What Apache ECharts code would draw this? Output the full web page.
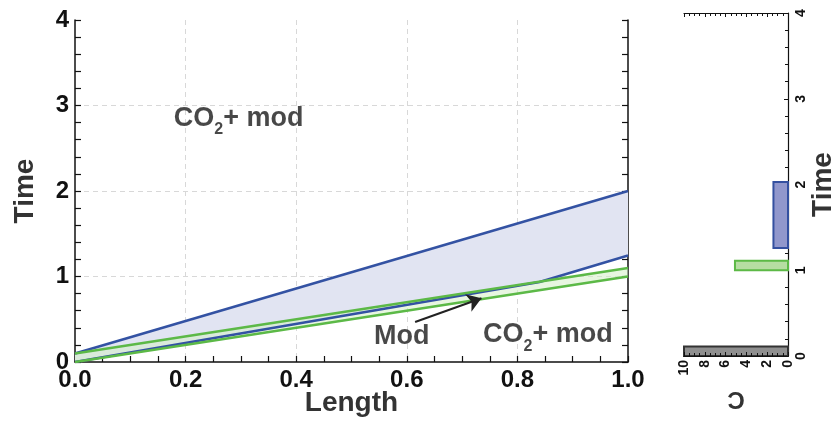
<!DOCTYPE html>
<html>
<head>
<meta charset="utf-8">
<script src="https://cdn.jsdelivr.net/npm/echarts@6/dist/echarts.min.js"></script>
<style>
  html, body { margin: 0; padding: 0; background: #fff; }
  #chart { width: 835px; height: 424px; }
</style>
</head>
<body>
<div id="chart"></div>
<script>
// main panel: lines as [length, time]
const blueTop = [[0, 0.1], [1.0, 2.0]];
const blueBottom = [[0, 0], [0.84, 0.935], [1.0, 1.245]];
const greenTop = [[0, 0.1], [1.0, 1.1]];
const greenBottom = [[0, 0], [1.0, 1.0]];

// right panel: C value and time range of each bar
const barC = [10, 5.1, 1.4];
const barStart = [0, 1.0, 1.26];
const barEnd = [0.11, 1.11, 2.03];
const barFill = ['#8f8f8f', '#b6dda2', '#9197cc'];
const barEdge = ['#333333', '#5cb946', '#3450a0'];

// text notes [length, time, label]
const notes = [
  [0.296, 2.83, 'co2'],
  [0.591, 0.275, 'mod'],
  [0.855, 0.30, 'co2']
];
const arrowFrom = [0.615, 0.468];
const arrowTo = [0.735, 0.745];

const blue = '#3352a3';
const green = '#5cb947';
const font = 'Liberation Sans, Arial, sans-serif';

const chart = echarts.init(document.getElementById('chart'));

function band(upper, lower, fill) {
  return {
    type: 'custom',
    xAxisIndex: 0,
    yAxisIndex: 0,
    data: [0],
    silent: true,
    renderItem: function (params, api) {
      const pts = upper.map(p => api.coord(p))
        .concat(lower.slice().reverse().map(p => api.coord(p)));
      return { type: 'polygon', shape: { points: pts }, style: { fill: fill } };
    }
  };
}

function line(data, color) {
  return {
    type: 'line',
    xAxisIndex: 0,
    yAxisIndex: 0,
    data: data,
    showSymbol: false,
    silent: true,
    lineStyle: { color: color, width: 2.5 },
    z: 4
  };
}

const noteRich = {
  a: { fontSize: 27, fontWeight: 'bold', fontFamily: font, color: '#1a1a1a', lineHeight: 30, verticalAlign: 'top' },
  s: { fontSize: 16, fontWeight: 'bold', fontFamily: font, color: '#1a1a1a', lineHeight: 16, padding: [17, 0, 0, 0], verticalAlign: 'top' }
};

const mainTick = { show: true, inside: true, length: 6, lineStyle: { color: '#111', width: 1.2 } };
const mainMinor = { show: true, splitNumber: 5, length: 6, lineStyle: { color: '#111', width: 1.2 } };

const option = {
  animation: false,
  grid: [
    { left: 75, right: 207, top: 20, bottom: 62, outerBoundsMode: 'none' },
    { left: 684, right: 47, top: 13, bottom: 68, outerBoundsMode: 'none' }
  ],
  xAxis: [
    {
      gridIndex: 0, type: 'value', min: 0, max: 1, interval: 0.2,
      name: 'Length', nameLocation: 'middle', nameGap: 27, nameMoveOverlap: false,
      nameTextStyle: { fontSize: 28, fontWeight: 'bold', fontFamily: font, color: '#333' },
      axisLine: { lineStyle: { color: '#111', width: 1.5 } },
      axisTick: mainTick,
      minorTick: { show: true, splitNumber: 4, length: 6, lineStyle: { color: '#111', width: 1.2 } },
      axisLabel: { fontSize: 24, fontWeight: 'bold', fontFamily: font, color: '#111', margin: 6,
        formatter: v => v.toFixed(1) },
      splitLine: { show: true, showMinLine: false, showMaxLine: false, lineStyle: { color: '#d8d8d8', type: [5, 4] } }
    },
    {
      gridIndex: 1, type: 'value', min: 0, max: 10, interval: 2, inverse: true,
      name: 'C', nameLocation: 'middle', nameGap: 31, nameRotate: 180,
      nameTextStyle: { fontSize: 24, fontWeight: 'bold', fontFamily: font, color: '#333' },
      axisLine: { lineStyle: { color: '#111', width: 1.2 } },
      axisTick: { show: true, inside: true, length: 4, lineStyle: { color: '#111' } },
      minorTick: { show: true, splitNumber: 4, length: 3, lineStyle: { color: '#111' } },
      axisLabel: { fontSize: 14, fontWeight: 'bold', fontFamily: font, color: '#111', rotate: 90, margin: 4 },
      splitLine: { show: false },
      z: 5
    },
    {
      gridIndex: 1, type: 'value', min: 0, max: 10, interval: 2, inverse: true, position: 'top',
      axisLine: { lineStyle: { color: '#111', width: 1.2 } },
      axisTick: { show: true, inside: true, length: 4, lineStyle: { color: '#111' } },
      minorTick: { show: true, splitNumber: 4, length: 3, lineStyle: { color: '#111' } },
      axisLabel: { show: false },
      splitLine: { show: false }
    }
  ],
  yAxis: [
    {
      gridIndex: 0, type: 'value', min: 0, max: 4, interval: 1,
      name: 'Time', nameLocation: 'middle', nameGap: 36, nameRotate: 90,
      nameTextStyle: { fontSize: 28, fontWeight: 'bold', fontFamily: font, color: '#333' },
      axisLine: { show: true, lineStyle: { color: '#111', width: 1.5 } },
      axisTick: mainTick,
      minorTick: mainMinor,
      axisLabel: { fontSize: 24, fontWeight: 'bold', fontFamily: font, color: '#111', margin: 6 },
      splitLine: { show: true, showMinLine: false, showMaxLine: false, lineStyle: { color: '#d8d8d8', type: [5, 4] } }
    },
    {
      gridIndex: 0, type: 'value', min: 0, max: 4, interval: 1, position: 'right',
      axisLine: { show: true, lineStyle: { color: '#111', width: 1.5 } },
      axisTick: mainTick,
      minorTick: mainMinor,
      axisLabel: { show: false },
      splitLine: { show: false }
    },
    {
      gridIndex: 1, type: 'value', min: 0, max: 4, interval: 1, position: 'right',
      name: 'Time', nameLocation: 'middle', nameGap: 21, nameRotate: 90,
      nameTextStyle: { fontSize: 28, fontWeight: 'bold', fontFamily: font, color: '#333' },
      axisLine: { show: true, lineStyle: { color: '#111', width: 1.2 } },
      axisTick: { show: true, inside: true, length: 4, lineStyle: { color: '#111' } },
      minorTick: { show: true, splitNumber: 5, length: 3, lineStyle: { color: '#111' } },
      axisLabel: { fontSize: 14, fontWeight: 'bold', fontFamily: font, color: '#111', rotate: 90, margin: 6 },
      splitLine: { show: false }
    }
  ],
  series: [
    band(blueTop, blueBottom, '#e1e4f2'),
    band(greenTop, greenBottom, 'rgba(214, 238, 200, 0.55)'),
    line(blueTop, blue),
    line(blueBottom, blue),
    line(greenTop, green),
    line(greenBottom, green),
    {
      type: 'lines',
      coordinateSystem: 'cartesian2d',
      xAxisIndex: 0,
      yAxisIndex: 0,
      silent: true,
      symbol: ['none', 'arrow'],
      symbolSize: [0, 14],
      lineStyle: { color: '#222', width: 2, opacity: 1 },
      data: [{ coords: [arrowFrom, arrowTo] }],
      z: 5
    },
    {
      type: 'scatter',
      xAxisIndex: 0,
      yAxisIndex: 0,
      silent: true,
      symbolSize: 2,
      itemStyle: { color: 'rgba(0,0,0,0)' },
      data: notes,
      label: {
        show: true,
        position: 'inside',
        formatter: p => p.value[2] === 'co2' ? '{a|CO}{s|2}{a|+ mod}' : '{a|Mod}',
        rich: noteRich
      },
      z: 6
    },
    {
      type: 'custom',
      xAxisIndex: 1,
      yAxisIndex: 2,
      silent: true,
      data: barC.map((c, i) => [c, barStart[i], barEnd[i]]),
      renderItem: function (params, api) {
        const i = params.dataIndex;
        const a = api.coord([api.value(0), api.value(2)]);
        const b = api.coord([0, api.value(1)]);
        return {
          type: 'rect',
          shape: {
            x: Math.min(a[0], b[0]), y: Math.min(a[1], b[1]),
            width: Math.abs(b[0] - a[0]), height: Math.abs(b[1] - a[1])
          },
          style: { fill: barFill[i], stroke: barEdge[i], lineWidth: 2 }
        };
      }
    }
  ]
};

chart.setOption(option);
</script>
</body>
</html>
